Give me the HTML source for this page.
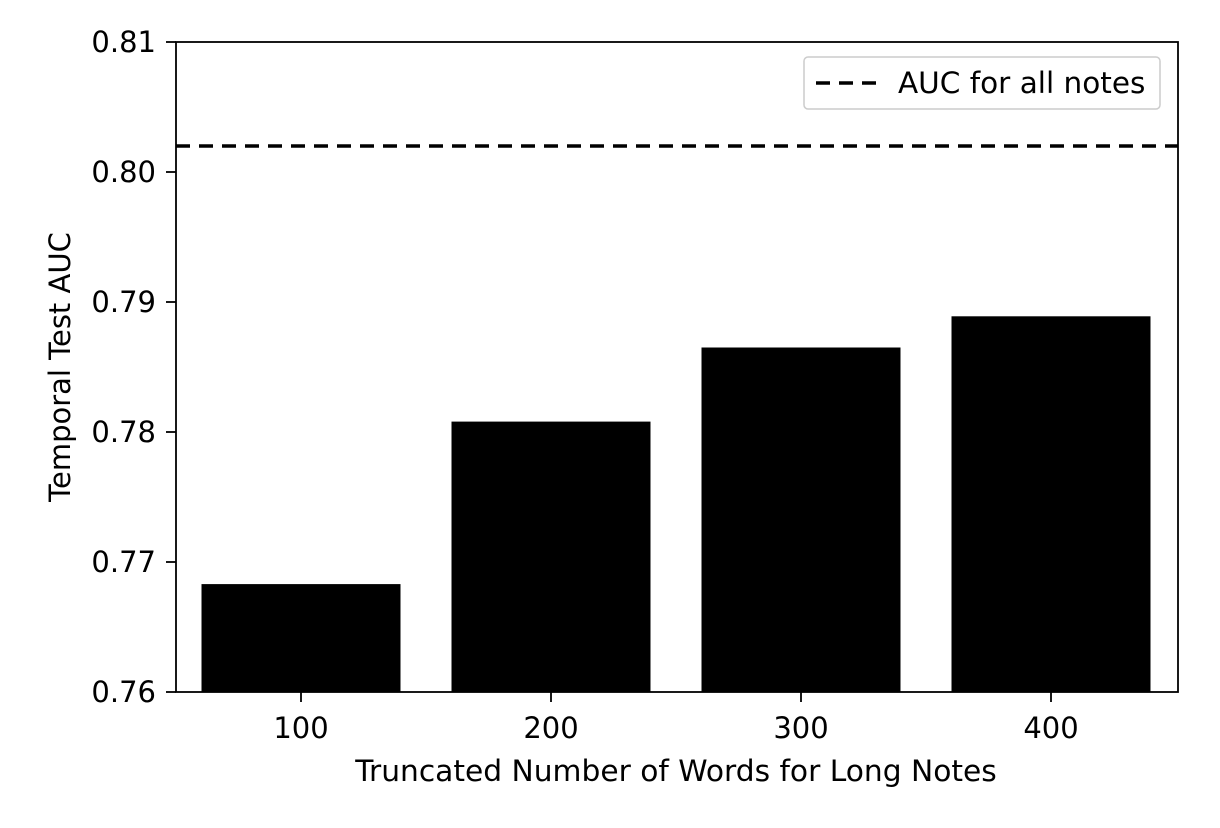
<!DOCTYPE html>
<html><head><meta charset="utf-8"><style>
html,body{margin:0;padding:0;background:#fff;}
svg{display:block;font-family:"DejaVu Sans","Liberation Sans",sans-serif;}
</style></head><body>
<svg id="chart" width="1220" height="828" viewBox="0 0 1220 828">
<g id="bars"></g>
<g id="ref"></g>
<rect x="176" y="42" width="1002" height="650" fill="none" stroke="#000" stroke-width="1.8"/>
<g id="yticks"></g>
<g id="xticks"></g>
<text x="676" y="781" text-anchor="middle" font-size="29.7">Truncated Number of Words for Long Notes</text>
<text transform="translate(70,367) rotate(-90)" text-anchor="middle" font-size="29">Temporal Test AUC</text>
<g>
<rect x="804" y="57" width="356" height="52" rx="4" fill="#fff" stroke="#ccc" stroke-width="1.5"/>
<line x1="816" y1="83" x2="876" y2="83" stroke="#000" stroke-width="3.5" stroke-dasharray="14,9"/>
<text x="898" y="93" font-size="29.5">AUC for all notes</text>
</g>
</svg>
<script>
const categories = ["100","200","300","400"];
const values = [0.7683, 0.7808, 0.7865, 0.7889];
const refValue = 0.802;
const yTicks = [0.76,0.77,0.78,0.79,0.80,0.81];
const yTickLabels = ["0.76","0.77","0.78","0.79","0.80","0.81"];

const NS="http://www.w3.org/2000/svg";
const y = v => 692 - (v-0.76)/0.05*650;
const x = i => 176 + (i+0.5)*250;
const bw = 199;
const bars=document.getElementById('bars');
categories.forEach((c,i)=>{
  const r=document.createElementNS(NS,'rect');
  r.setAttribute('x',x(i)-bw/2);
  r.setAttribute('y',y(values[i]));
  r.setAttribute('width',bw);
  r.setAttribute('height',692-y(values[i]));
  r.setAttribute('fill','#000');
  
  
  bars.appendChild(r);
});
const ref=document.getElementById('ref');
const l=document.createElementNS(NS,'line');
l.setAttribute('x1',176);l.setAttribute('x2',1178);
l.setAttribute('y1',y(refValue));l.setAttribute('y2',y(refValue));
l.setAttribute('stroke','#000');l.setAttribute('stroke-width','3.5');l.setAttribute('stroke-dasharray','14,9');


ref.appendChild(l);
const yt=document.getElementById('yticks');
yTicks.forEach((v,i)=>{
  const t=document.createElementNS(NS,'line');
  t.setAttribute('x1',166);t.setAttribute('x2',176);t.setAttribute('y1',y(v));t.setAttribute('y2',y(v));
  t.setAttribute('stroke','#000');t.setAttribute('stroke-width','1.8');
  
  
  yt.appendChild(t);
  const tx=document.createElementNS(NS,'text');
  tx.setAttribute('x',156);tx.setAttribute('y',y(v)+10);tx.setAttribute('text-anchor','end');tx.setAttribute('font-size','29');
  tx.textContent=yTickLabels[i];
  
  
  yt.appendChild(tx);
});
const xt=document.getElementById('xticks');
categories.forEach((c,i)=>{
  const t=document.createElementNS(NS,'line');
  t.setAttribute('x1',x(i));t.setAttribute('x2',x(i));t.setAttribute('y1',692);t.setAttribute('y2',702);
  t.setAttribute('stroke','#000');t.setAttribute('stroke-width','1.8');
  
  
  xt.appendChild(t);
  const tx=document.createElementNS(NS,'text');
  tx.setAttribute('x',x(i));tx.setAttribute('y',738);tx.setAttribute('text-anchor','middle');tx.setAttribute('font-size','29');
  tx.textContent=c;
  
  
  xt.appendChild(tx);
});
</script>
</body></html>
